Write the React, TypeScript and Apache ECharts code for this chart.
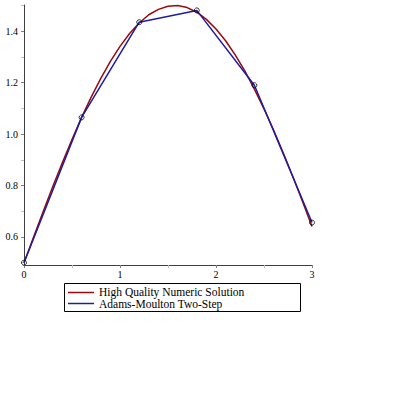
import React, { useEffect, useRef } from "react";
import * as echarts from "echarts";

const exactX = [0, 0.1, 0.2, 0.3, 0.4, 0.5, 0.6, 0.7, 0.8, 0.9, 1.0, 1.1, 1.2, 1.3, 1.4, 1.5, 1.6, 1.7, 1.8, 1.9, 2.0, 2.1, 2.2, 2.3, 2.4, 2.5, 2.6, 2.7, 2.8, 2.9, 3.0];
const exactY = [0.5, 0.6, 0.699, 0.796, 0.889, 0.979, 1.065, 1.144, 1.217, 1.283, 1.341, 1.391, 1.432, 1.464, 1.485, 1.497, 1.5, 1.492, 1.474, 1.446, 1.409, 1.363, 1.308, 1.246, 1.175, 1.098, 1.016, 0.927, 0.835, 0.739, 0.641];

const amX = [0, 0.6, 1.2, 1.8, 2.4, 3.0];
const amY = [0.5, 1.065, 1.435, 1.481, 1.19, 0.656];

const xTicks = [0, 1, 2, 3];
const yMajorTicks = [0.6, 0.8, 1.0, 1.2, 1.4];
const yMinorTicks = [0.5, 0.7, 0.9, 1.1, 1.3, 1.5];

const legendNames = ["High Quality Numeric Solution", "Adams-Moulton Two-Step"];
const RED = "#9a0a0a";
const BLUE = "#1c1ca6";
const FONT = "'Liberation Serif', 'DejaVu Serif', serif";

export default function App() {
  const ref = useRef<HTMLDivElement>(null);
  useEffect(() => {
    if (!ref.current) return;
    const chart = echarts.init(ref.current, null, { renderer: "svg" });
    const exactData = exactX.map((x, i) => [x, exactY[i]]);
    const amData = amX.map((x, i) => [x, amY[i]]);
    chart.setOption({
      animation: false,
      backgroundColor: "#ffffff",
      grid: { left: 24, top: 5, width: 288, height: 260, containLabel: false },
      xAxis: {
        type: "value",
        min: 0,
        max: 3,
        interval: 1,
        axisLine: { show: true, onZero: false, lineStyle: { color: "#404040", width: 1 } },
        axisTick: { show: true, length: 3, lineStyle: { color: "#808080" }, customValues: xTicks },
        minorTick: { show: true, splitNumber: 2, length: 3, lineStyle: { color: "#c0c0c0" } },
        axisLabel: {
          color: "#000",
          fontFamily: FONT,
          fontSize: 10,
          margin: 4,
          customValues: xTicks,
          formatter: (v: number) => String(v),
        },
        splitLine: { show: false },
        minorSplitLine: { show: false },
      },
      yAxis: [
        {
          type: "value",
          min: 0.491,
          max: 1.502,
          axisLine: { show: true, onZero: false, lineStyle: { color: "#404040", width: 1 } },
          axisTick: { show: true, length: 3, lineStyle: { color: "#808080" }, customValues: yMajorTicks },
          axisLabel: {
            color: "#000",
            fontFamily: FONT,
            fontSize: 10,
            margin: 6,
            customValues: yMajorTicks,
            formatter: (v: number) => v.toFixed(1),
          },
          splitLine: { show: false },
        },
        {
          type: "value",
          min: 0.491,
          max: 1.502,
          position: "left",
          axisLine: { show: false },
          axisTick: { show: true, length: 3, lineStyle: { color: "#c0c0c0" }, customValues: yMinorTicks },
          axisLabel: { show: false },
          splitLine: { show: false },
        },
      ],
      series: [
        {
          name: legendNames[0],
          type: "line",
          data: exactData,
          showSymbol: false,
          lineStyle: { color: RED, width: 1.5 },
          z: 2,
        },
        {
          name: legendNames[1],
          type: "line",
          data: amData,
          showSymbol: false,
          lineStyle: { color: BLUE, width: 1.5 },
          z: 3,
        },
        {
          type: "scatter",
          data: amData,
          symbol: "circle",
          symbolSize: 5,
          itemStyle: { color: "transparent", borderColor: "#000", borderWidth: 1 },
          z: 4,
        },
      ],
      graphic: [
        {
          type: "rect",
          shape: { x: 64.5, y: 283.5, width: 236, height: 28 },
          style: { fill: "#fff", stroke: "#000", lineWidth: 1 },
        },
        {
          type: "line",
          shape: { x1: 68, y1: 292.5, x2: 94, y2: 292.5 },
          style: { stroke: RED, lineWidth: 1.5 },
        },
        {
          type: "line",
          shape: { x1: 68, y1: 303.5, x2: 94, y2: 303.5 },
          style: { stroke: BLUE, lineWidth: 1.5 },
        },
        {
          type: "text",
          x: 99,
          y: 292,
          style: { text: legendNames[0], fill: "#000", font: `11.5px ${FONT}`, verticalAlign: "middle" },
        },
        {
          type: "text",
          x: 99,
          y: 304,
          style: { text: legendNames[1], fill: "#000", font: `11.5px ${FONT}`, verticalAlign: "middle" },
        },
      ],
    });
    return () => chart.dispose();
  }, []);
  return (
    <div
      ref={ref}
      style={{ position: "absolute", left: 0, top: 0, width: 395, height: 395 }}
    />
  );
}
